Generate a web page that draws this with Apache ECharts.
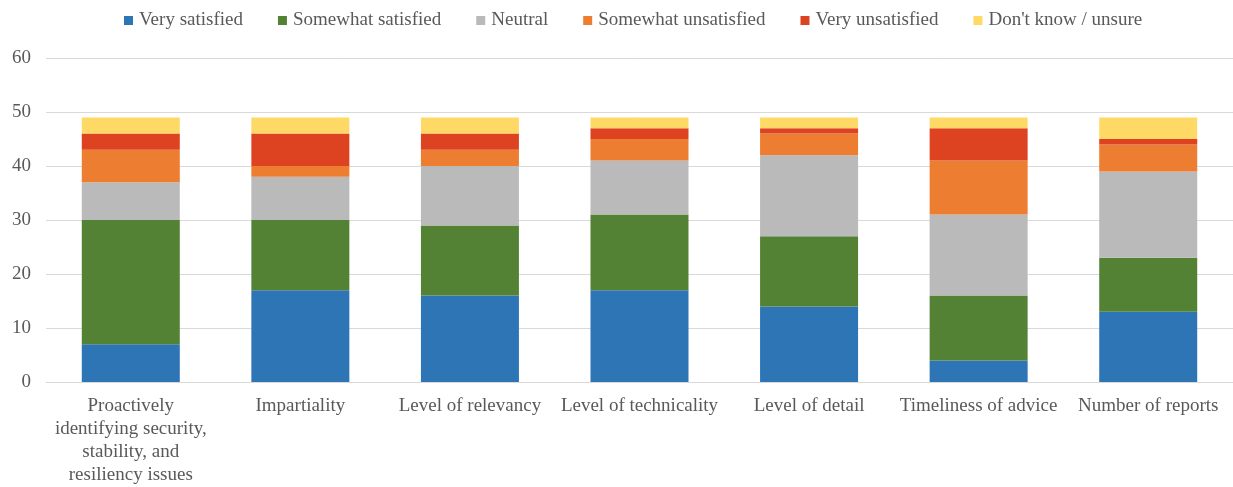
<!DOCTYPE html>
<html>
<head>
<meta charset="utf-8">
<script src="https://cdn.jsdelivr.net/npm/echarts@6/dist/echarts.min.js"></script>
<style>html,body{margin:0;padding:0;background:#fff}#c{width:1233px;height:487px}</style>
</head>
<body>
<div id="c"></div>
<script>
const categories = [
  "Proactively\nidentifying security,\nstability, and\nresiliency issues",
  "Impartiality",
  "Level of relevancy",
  "Level of technicality",
  "Level of detail",
  "Timeliness of advice",
  "Number of reports"
];
const seriesNames = ["Very satisfied", "Somewhat satisfied", "Neutral", "Somewhat unsatisfied", "Very unsatisfied", "Don't know / unsure"];
const verySatisfied       = [7, 17, 16, 17, 14, 4, 13];
const somewhatSatisfied   = [23, 13, 13, 14, 13, 12, 10];
const neutral             = [7, 8, 11, 10, 15, 15, 16];
const somewhatUnsatisfied = [6, 2, 3, 4, 4, 10, 5];
const veryUnsatisfied     = [3, 6, 3, 2, 1, 6, 1];
const dontKnow            = [3, 3, 3, 2, 2, 2, 4];
const yTicks = [0, 10, 20, 30, 40, 50, 60];

const seriesData = [verySatisfied, somewhatSatisfied, neutral, somewhatUnsatisfied, veryUnsatisfied, dontKnow];
const colors = ["#2E75B6", "#548235", "#BABABA", "#ED7D31", "#DE4321", "#FFD966"];
const font = "'Liberation Serif', 'Times New Roman', serif";

const chart = echarts.init(document.getElementById('c'), null, {renderer: 'canvas'});
chart.setOption({
  animation: false,
  color: colors,
  textStyle: {fontFamily: font},
  legend: {
    top: 6, left: 119,
    itemWidth: 9, itemHeight: 9, itemGap: 35,
    icon: 'rect',
    textStyle: {fontFamily: font, fontSize: 19, color: '#595959', padding: [0, 0, 0, 1]},
    data: seriesNames
  },
  grid: {left: 46, top: 58, width: 1197, bottom: 104, containLabel: false},
  xAxis: {
    type: 'category',
    data: categories,
    axisLine: {show: true, lineStyle: {color: '#D9D9D9', width: 1}},
    axisTick: {show: false},
    axisLabel: {fontFamily: font, fontSize: 19, color: '#595959', margin: 13, lineHeight: 23, interval: 0}
  },
  yAxis: {
    type: 'value',
    min: yTicks[0], max: yTicks[yTicks.length - 1], interval: 10,
    axisLine: {show: false},
    axisTick: {show: false},
    splitLine: {lineStyle: {color: '#D9D9D9', width: 1}},
    axisLabel: {fontFamily: font, fontSize: 19, color: '#595959', margin: 15}
  },
  series: seriesNames.map((n, i) => ({
    name: n,
    type: 'bar',
    stack: 'total',
    barWidth: 98,
    data: seriesData[i],
    itemStyle: {color: colors[i]}
  }))
});
</script>
</body>
</html>
